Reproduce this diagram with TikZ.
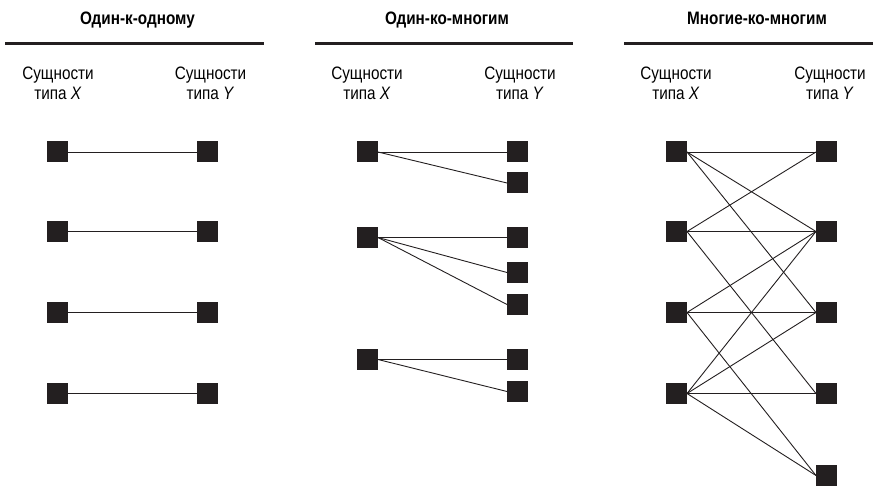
\documentclass[tikz,border=0pt]{standalone}
\usepackage{fontspec}
\setmainfont{Liberation Sans}[FakeStretch=0.85]
\definecolor{sqc}{HTML}{231F20}
\definecolor{linec}{HTML}{231F20}
\begin{document}
\begin{tikzpicture}[x=1pt,y=-1pt,
  sq/.style={fill=sqc,draw=none,minimum size=21pt,inner sep=0pt,outer sep=0pt},
  ln/.style={draw=linec,line width=0.9pt},
  hdr/.style={draw=linec,line width=3pt},
  ttl/.style={font=\bfseries\fontsize{18}{20}\selectfont,anchor=base,inner sep=0pt},
  lbl/.style={font=\fontsize{18}{20}\selectfont,anchor=base,inner sep=0pt}]
\useasboundingbox (0,0) rectangle (873,486);

% header rules
\coordinate (h1a) at (5,43.5);   \coordinate (h1b) at (264,43.5);
\coordinate (h2a) at (315,43.5); \coordinate (h2b) at (573,43.5);
\coordinate (h3a) at (624,43.5); \coordinate (h3b) at (873,43.5);
\draw[hdr] (h1a) -- (h1b);
\draw[hdr] (h2a) -- (h2b);
\draw[hdr] (h3a) -- (h3b);

% titles
\node[ttl] (t1) at (137.5,25) {Один-к-одному};
\node[ttl] (t2) at (447,25) {Один-ко-многим};
\node[ttl] (t3) at (757,25) {Многие-ко-многим};

% column labels
\foreach \n/\cx/\v in {a/58/X,b/210.5/Y,c/367/X,d/520/Y,e/676/X,f/830/Y}{
  \node[lbl] (s\n) at (\cx,80) {Сущности};
  \node[lbl] (p\n) at (\cx,100) {типа \textit{\v}};
}

% panel 1: one-to-one
\foreach \k/\y in {1/152,2/231.5,3/312.5,4/393.5}{
  \node[sq] (aL\k) at (57.5,\y) {};
  \node[sq] (aR\k) at (207.5,\y) {};
  \draw[ln] (aL\k.east) -- (aR\k.west);
}

% panel 2: one-to-many
\foreach \k/\y in {1/152,2/237.5,3/359.5}{
  \node[sq] (bL\k) at (367.5,\y) {};
}
\foreach \k/\y in {1/152,2/183,3/237.5,4/272.5,5/304.5,6/359.5,7/391.5}{
  \node[sq] (bR\k) at (517.5,\y) {};
}
\foreach \a/\b in {1/1,1/2,2/3,2/4,2/5,3/6,3/7}{
  \draw[ln] (bL\a.east) -- (bR\b.west);
}

% panel 3: many-to-many
\foreach \k/\y in {1/152,2/231.5,3/312.5,4/393.5}{
  \node[sq] (cL\k) at (676.5,\y) {};
}
\foreach \k/\y in {1/152,2/231.5,3/312.5,4/393.5,5/475.5}{
  \node[sq] (cR\k) at (826.5,\y) {};
}
\foreach \a/\b in {1/1,1/2,1/3,2/1,2/2,2/4,3/2,3/3,3/5,4/2,4/3,4/4,4/5}{
  \draw[ln] (cL\a.east) -- (cR\b.west);
}
\end{tikzpicture}
\end{document}
